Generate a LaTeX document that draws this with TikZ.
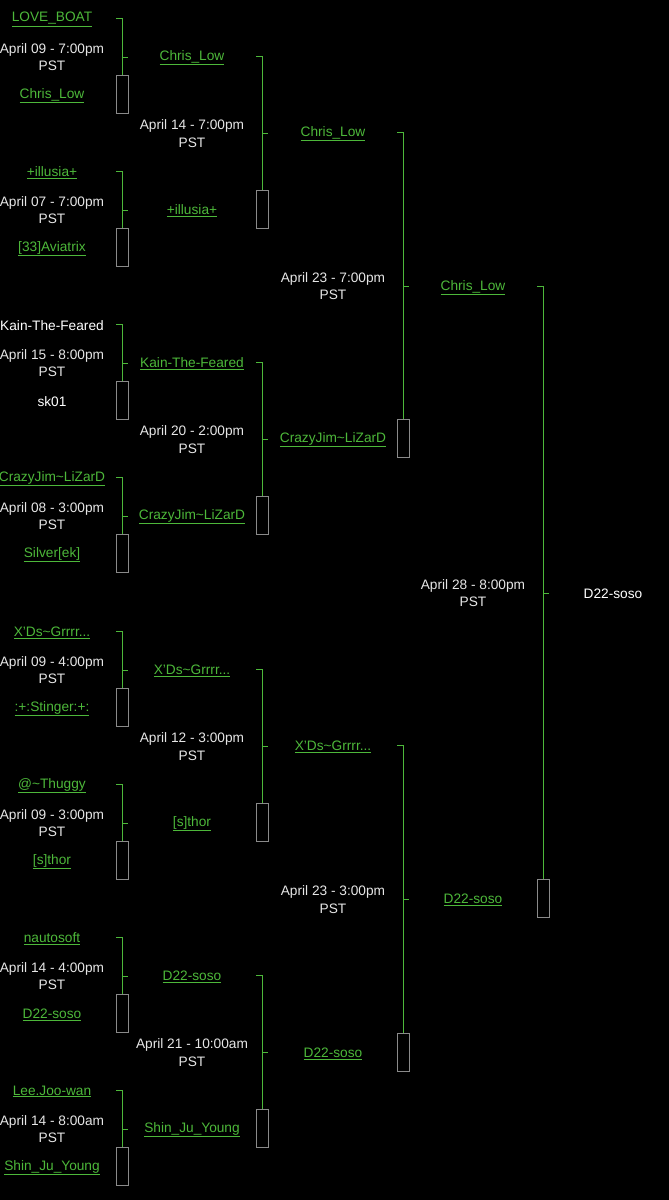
\documentclass[tikz,border=0pt]{standalone}
\usepackage{fontspec}
\setmainfont{Liberation Sans}
\definecolor{grn}{HTML}{4DB83A}
\definecolor{gry}{HTML}{8A8A8A}
\definecolor{txt}{HTML}{E6E6E6}
\newcommand\lk[1]{\textcolor{grn}{\underline{#1}}}
\newcommand\wt[1]{\textcolor{white}{#1}}
\newcommand\ta{\textasciitilde}
\tikzset{
  nm/.style={font=\fontsize{13.7}{16}\selectfont, inner sep=0pt, yshift=-1.5pt},
  dt/.style={font=\fontsize{13.7}{17.5}\selectfont, text=txt, align=center, inner sep=0pt, yshift=-1pt},
  box/.style={draw=gry, line width=0.9pt, minimum width=12pt, minimum height=38pt, inner sep=0pt},
  br/.style={draw=grn, line width=1pt}
}
\newcommand\mt[8]{%
  \node[nm] (#1t) at (#5,#3) {#6};
  \node[nm] (#1b) at (#5,#4) {#7};
  \node[dt] (#1d) at (#5,{(#3+#4)/2}) {#8\\PST};
  \coordinate (#1a) at (#2-6,#3);
  \coordinate (#1c) at (#2,#3);
  \node[box] (#1r) at (#2,#4) {};
  \draw[br] (#1a) -- (#1c) -- (#1r.north);
  \draw[br] (#1c |- #1d) -- ++(6,0);
}
\begin{document}
\begin{tikzpicture}[x=1pt,y=-1pt]
\fill[black] (0,0) rectangle (669,1200);
\useasboundingbox (0,0) rectangle (669,1200);
% round 1
\mt{a}{122}{18}{94}{52}{\lk{LOVE\_BOAT}}{\lk{Chris\_Low}}{April 09 - 7:00pm}
\mt{b}{122}{171}{247}{52}{\lk{+illusia+}}{\lk{[33]Aviatrix}}{April 07 - 7:00pm}
\mt{c}{122}{324}{400}{52}{\wt{Kain-The-Feared}}{\wt{sk01}}{April 15 - 8:00pm}
\mt{d}{122}{477}{553}{52}{\lk{CrazyJim\ta LiZarD}}{\lk{Silver[ek]}}{April 08 - 3:00pm}
\mt{e}{122}{631}{707}{52}{\lk{X'Ds\ta Grrrr...}}{\lk{:+:Stinger:+:}}{April 09 - 4:00pm}
\mt{f}{122}{784}{860}{52}{\lk{@\ta Thuggy}}{\lk{[s]thor}}{April 09 - 3:00pm}
\mt{g}{122}{937}{1013}{52}{\lk{nautosoft}}{\lk{D22-soso}}{April 14 - 4:00pm}
\mt{h}{122}{1090}{1166}{52}{\lk{Lee.Joo-wan}}{\lk{Shin\_Ju\_Young}}{April 14 - 8:00am}
% round 2
\mt{i}{262}{56}{209}{192}{\lk{Chris\_Low}}{\lk{+illusia+}}{April 14 - 7:00pm}
\mt{j}{262}{362}{515}{192}{\lk{Kain-The-Feared}}{\lk{CrazyJim\ta LiZarD}}{April 20 - 2:00pm}
\mt{k}{262}{669}{822}{192}{\lk{X'Ds\ta Grrrr...}}{\lk{[s]thor}}{April 12 - 3:00pm}
\mt{l}{262}{975}{1128}{192}{\lk{D22-soso}}{\lk{Shin\_Ju\_Young}}{April 21 - 10:00am}
% round 3
\mt{m}{403}{132}{438}{333}{\lk{Chris\_Low}}{\lk{CrazyJim\ta LiZarD}}{April 23 - 7:00pm}
\mt{n}{403}{745}{1052}{333}{\lk{X'Ds\ta Grrrr...}}{\lk{D22-soso}}{April 23 - 3:00pm}
% final
\mt{o}{543}{286}{898}{473}{\lk{Chris\_Low}}{\lk{D22-soso}}{April 28 - 8:00pm}
\node[nm, text=white] (win) at (613,592) {D22-soso};
\end{tikzpicture}
\end{document}
